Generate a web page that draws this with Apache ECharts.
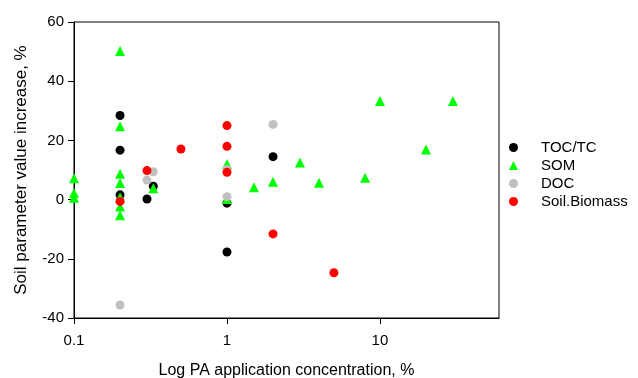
<!DOCTYPE html>
<html>
<head>
<meta charset="utf-8">
<script src="https://cdn.jsdelivr.net/npm/echarts@6/dist/echarts.min.js"></script>
<style>html,body{margin:0;padding:0;background:#fff}#c{width:638px;height:378px}</style>
</head>
<body>
<div id="c"></div>
<script>
var seriesNames = ['TOC/TC', 'SOM', 'DOC', 'Soil.Biomass'];
var xTicks = [0.1, 1, 10];
var yTicks = [-40, -20, 0, 20, 40, 60];

var tocX = [0.2, 0.2, 0.2, 0.3, 0.33, 1, 1, 2];
var tocY = [28.4, 16.7, 1.6, 0.2, 4.5, -1.2, -17.7, 14.5];

var somX = [0.1, 0.1, 0.1, 0.2, 0.2, 0.2, 0.2, 0.2, 0.2, 0.2, 0.33, 1, 1, 1.5, 2, 3, 4, 8, 10, 20, 30];
var somY = [7.2, 2.2, 0.6, 50.2, 24.8, 8.7, 5.6, 0.8, -2.3, -5.3, 3.8, 12, 0.2, 4.2, 6, 12.5, 5.7, 7.4, 33.3, 16.9, 33.3];

var docX = [0.2, 0.3, 0.33, 1, 1, 2];
var docY = [-35.6, 6.6, 9.4, 10.2, 1, 25.4];

var bioX = [0.2, 0.3, 0.5, 1, 1, 1, 2, 5];
var bioY = [-0.6, 9.8, 17.1, 25, 18, 9.2, -11.6, -24.7];

function pairs(xs, ys) { return xs.map(function (x, i) { return [x, ys[i]]; }); }

var colors = ['#000000', '#00ff00', '#c0c0c0', '#ff0000'];
var symbols = ['circle', 'triangle', 'circle', 'circle'];
var sizes = [9, 10, 9, 9];
var datasets = [pairs(tocX, tocY), pairs(somX, somY), pairs(docX, docY), pairs(bioX, bioY)];

var chart = echarts.init(document.getElementById('c'), null, {renderer: 'canvas'});
var font = 'Liberation Sans, Arial, sans-serif';
chart.setOption({
  animation: false,
  backgroundColor: '#fff',
  textStyle: {fontFamily: font},
  grid: {left: 74, right: 139, top: 22, bottom: 60, containLabel: false, outerBoundsMode: 'none',
    show: true, borderColor: '#000', borderWidth: 1, backgroundColor: 'transparent'},
  legend: {
    orient: 'vertical', left: 504, top: 135,
    itemWidth: 9, itemHeight: 9, itemGap: 3,
    data: seriesNames.map(function (n, i) { return {name: n, icon: symbols[i]}; }),
    formatter: function (n) { return '{s|}' + n; },
    textStyle: {fontFamily: font, fontSize: 15, color: '#000', rich: {s: {width: 18}}}
  },
  xAxis: {
    type: 'log', logBase: 10, min: 0.1, max: 60,
    name: 'Log PA application concentration, %', nameLocation: 'middle', nameGap: 45,
    nameTextStyle: {fontFamily: font, fontSize: 16, color: '#000'},
    axisLine: {onZero: false, lineStyle: {color: '#000', width: 1}},
    axisTick: {show: true, inside: false, length: 6, lineStyle: {color: '#000'}, customValues: xTicks},
    minorTick: {show: false},
    axisLabel: {fontFamily: font, fontSize: 15, color: '#000', margin: 15, customValues: xTicks,
      formatter: function (v) { return String(v); }},
    splitLine: {show: false}
  },
  yAxis: {
    type: 'value', min: -40, max: 60, interval: 20,
    name: 'Soil parameter value increase, %', nameLocation: 'middle', nameGap: 44,
    nameTextStyle: {fontFamily: font, fontSize: 17, color: '#000'},
    axisLine: {show: true, onZero: false, lineStyle: {color: '#000', width: 1}},
    axisTick: {show: true, inside: false, length: 6, lineStyle: {color: '#000'}},
    axisLabel: {fontFamily: font, fontSize: 15, color: '#000', margin: 10, customValues: yTicks},
    splitLine: {show: false}
  },
  series: seriesNames.map(function (n, i) {
    return {
      name: n, type: 'scatter', data: datasets[i],
      symbol: symbols[i], symbolSize: sizes[i],
      itemStyle: {color: colors[i], opacity: 1}
    };
  })
});
</script>
</body>
</html>
